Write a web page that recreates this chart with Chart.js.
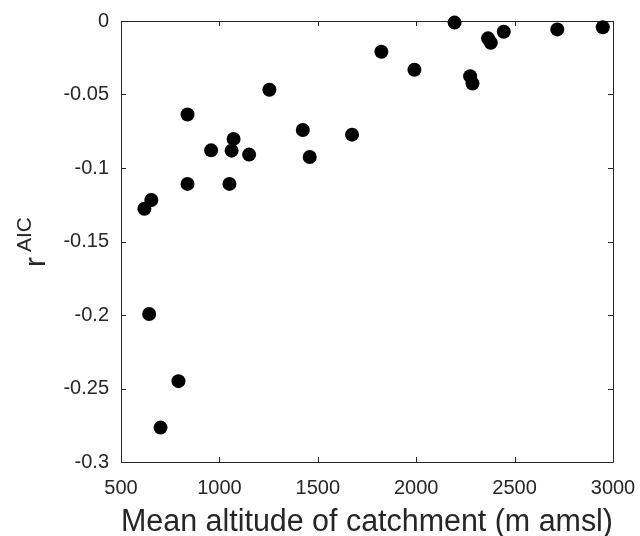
<!DOCTYPE html>
<html>
<head>
<meta charset="utf-8">
<script src="https://cdn.jsdelivr.net/npm/chart.js@4"></script>
<style>
  body { margin: 0; background: #fff; }
</style>
</head>
<body>
<canvas id="altChart" width="640" height="536"></canvas>
<script>
// mean catchment altitude (m amsl) and r^AIC
var altitude = [619, 654, 643, 701, 792, 838, 838, 958, 1051, 1062, 1072, 1151, 1254,
    1424, 1459, 1674, 1823, 1991, 2195, 2274, 2286, 2365, 2379, 2445, 2717, 2948];
var rAIC = [-0.1277, -0.1218, -0.1993, -0.2766, -0.245, -0.0636, -0.1108, -0.088, -0.1108,
    -0.0882, -0.0802, -0.0909, -0.0468, -0.0741, -0.0925, -0.0773, -0.0209, -0.0332,
    -0.0011, -0.0375, -0.0425, -0.0118, -0.0148, -0.0073, -0.0057, -0.0043];

var xTicks = [500, 1000, 1500, 2000, 2500, 3000];
var yTicks = [0, -0.05, -0.1, -0.15, -0.2, -0.25, -0.3];

var axisColor = "#262626";
var fontFamily = "'Liberation Sans', Arial, sans-serif";

var points = altitude.map(function(x, i) {
    return { x: x, y: rAIC[i] };
});

// matlab style box with inward ticks on all four sides
var boxPlugin = {
    id: "boxTicks",
    beforeDatasetsDraw: function(chart) {
        var ctx = chart.ctx;
        var a = chart.chartArea;
        var xs = chart.scales.x;
        var ys = chart.scales.y;
        var len = 5;
        ctx.save();
        ctx.strokeStyle = axisColor;
        ctx.lineWidth = 1;
        ctx.beginPath();
        ctx.rect(a.left + 0.5, a.top + 0.5, a.right - a.left, a.bottom - a.top);
        xTicks.forEach(function(v) {
            var px = Math.round(xs.getPixelForValue(v)) + 0.5;
            ctx.moveTo(px, a.bottom);
            ctx.lineTo(px, a.bottom - len);
            ctx.moveTo(px, a.top);
            ctx.lineTo(px, a.top + len);
        });
        yTicks.forEach(function(v) {
            var py = Math.round(ys.getPixelForValue(v)) + 0.5;
            ctx.moveTo(a.left, py);
            ctx.lineTo(a.left + len, py);
            ctx.moveTo(a.right, py);
            ctx.lineTo(a.right - len, py);
        });
        ctx.stroke();
        ctx.restore();
    },
    afterDraw: function(chart) {
        // y label r^AIC with superscript, rotated
        var ctx = chart.ctx;
        ctx.save();
        ctx.fillStyle = axisColor;
        ctx.translate(45, 267);
        ctx.rotate(-Math.PI / 2);
        ctx.textAlign = "left";
        ctx.textBaseline = "alphabetic";
        ctx.font = "30px " + fontFamily;
        ctx.fillText("r", 0, 0);
        ctx.font = "21px " + fontFamily;
        ctx.fillText("AIC", 15, -14);
        ctx.restore();
    }
};

new Chart(document.getElementById("altChart"), {
    type: "scatter",
    data: {
        datasets: [
            {
                data: points,
                backgroundColor: "#000000",
                borderWidth: 0,
                pointRadius: 7,
                pointHoverRadius: 7,
                clip: false
            }
        ]
    },
    options: {
        responsive: false,
        animation: false,
        layout: {
            padding: { top: 21, right: 27, left: 0, bottom: 0 }
        },
        plugins: {
            legend: { display: false },
            tooltip: { enabled: false }
        },
        scales: {
            x: {
                type: "linear",
                min: 500,
                max: 3000,
                afterBuildTicks: function(scale) {
                    scale.ticks = xTicks.map(function(v) { return { value: v }; });
                },
                afterFit: function(scale) {
                    scale.height = 74;
                    scale.paddingLeft = 0;
                    scale.paddingRight = 0;
                },
                grid: { display: false, drawTicks: false },
                border: { display: false },
                ticks: {
                    padding: 14,
                    color: axisColor,
                    font: { family: fontFamily, size: 20 },
                    maxRotation: 0,
                    callback: function(v) { return String(v); }
                },
                title: {
                    display: true,
                    text: "Mean altitude of catchment (m amsl)",
                    color: axisColor,
                    font: { family: fontFamily, size: 31, lineHeight: 1 },
                    padding: { top: 0, bottom: -2 }
                }
            },
            y: {
                type: "linear",
                min: -0.3,
                max: 0,
                afterBuildTicks: function(scale) {
                    scale.ticks = yTicks.map(function(v) { return { value: v }; });
                },
                afterFit: function(scale) {
                    scale.width = 121;
                    scale.paddingTop = 0;
                    scale.paddingBottom = 0;
                },
                grid: { display: false, drawTicks: false },
                border: { display: false },
                ticks: {
                    padding: 12,
                    color: axisColor,
                    font: { family: fontFamily, size: 20 },
                    callback: function(v) { return String(Number(v.toFixed(2))); }
                }
            }
        }
    },
    plugins: [boxPlugin]
});
</script>
</body>
</html>
